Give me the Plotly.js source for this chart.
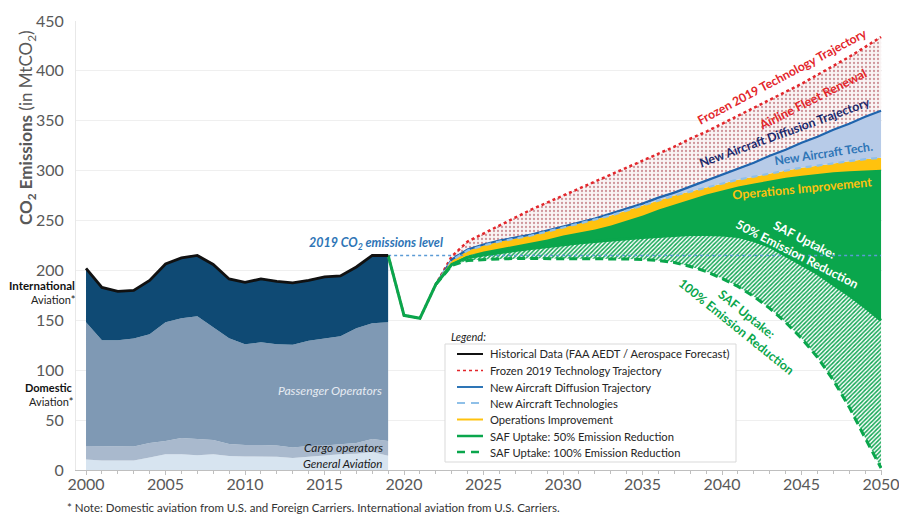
<!DOCTYPE html>
<html><head><meta charset="utf-8">
<script src="https://cdn.plot.ly/plotly-3.0.1.min.js"></script>
<style>html,body{margin:0;padding:0;background:#fff;} #chart{width:899px;height:518px;}</style>
</head><body><div id="chart"></div>
<script>
// ---------- data ----------
const histYears = [2000,2001,2002,2003,2004,2005,2006,2007,2008,2009,2010,2011,2012,2013,2014,2015,2016,2017,2018,2019];
const generalAviation = [10.5,9.5,9.5,9.5,12.5,15.7,15.7,14.7,15.7,14,13.5,13.5,13.3,12,13.3,14.3,15.7,16.3,18,14.3];
const cargoOperators = [13.5,14.5,14,14,14.5,13.3,16.3,16.3,14.3,12,11.5,11.5,11.2,10.5,10.7,10.2,10.3,10.7,13,14.7];
const passengerOperators = [124,106,106.5,108.2,109,119,120,123,113,106,101,103,101.5,103,105.5,107.5,108,115,116,119];
const internationalAviation = [54,53,49,48.3,54,58.5,60.5,61,63,59.5,62,63.5,63,62,60.5,61.5,60.5,61.5,68,67];

const fcYears = [2019,2020,2021,2022,2023,2024,2025,2026,2027,2028,2029,2030,2031,2032,2033,2034,2035,2036,2037,2038,2039,2040,2041,2042,2043,2044,2045,2046,2047,2048,2049,2050];
const frozen2019 = [215,155,152,186,214,229,237,245,253,261,268,275,282,289,296,303,310,317,324,332,339,347,355,363,371,379,387,396,405,414,424,434];
const diffusion = [215,155,152,186,211,221,226,230,233,236,240,244,248,252,257,262,267,273,278,284,290,296,302,308,315,321,328,334,341,347,354,360];
const newTech = [215,155,152,186,210,220,225,229,232,235,239,243,247,251,255,260,265,270,275,279,283,287,291,294,297,300,303,305,307.5,309.5,311.5,313];
const opsImprovement = [215,155,152,186,208,216,220,223,226,229,232,236,239,242,246,251,256,262,267,272,277,281,285,288,291,294,296,298,299.5,300.5,301.5,302];
const saf50 = [215,155,152,186,206,213,215.5,218,220,222,224,226,227.5,229,230.5,232,233,234,235,236,236,235.5,234,230,224,215,206,197,186,175,163,150];
const saf100 = [215,155,152,186,205,210,211,211.5,212,212,212,212,212,212,212,211.5,211,210,208,204,199,192,184,174,162,148,132,113,90,63,32,2];
const level2019 = 215;
const levelYears = [2019,2050];

const xTickVals = [2000,2005,2010,2015,2020,2025,2030,2035,2040,2045,2050];
const yTickVals = [0,50,100,150,200,250,300,350,400,450];

const legendLabels = ['Historical Data (FAA AEDT / Aerospace Forecast)','Frozen 2019 Technology Trajectory','New Aircraft Diffusion Trajectory',
  'New Aircraft Technologies','Operations Improvement','SAF Uptake: 50% Emission Reduction','SAF Uptake: 100% Emission Reduction'];

// ---------- helpers ----------
const L = 76, R = 17, T = 21, B = 48, W = 899, H = 518;
const PW = W - L - R, PH = H - T - B;
const X = px => (px - L) / PW;          // pixel -> paper
const Y = py => (H - B - py) / PH;
const FONT = 'Lato, "Open Sans", sans-serif';
const ctx = document.createElement('canvas').getContext('2d');
// font size so that the text's width matches a target length in px
const fit = (text, len, style) => { ctx.font = (style || '') + ' 100px Lato, "Open Sans", sans-serif';
  return Math.round(100 * len / ctx.measureText(text).width * 10) / 10; };

const C = {red:'#e3262b', blue:'#1f64ad', lblue:'#8fc0e8', yellow:'#ffc20e', green:'#0aa64c', black:'#111111'};

const totalHist = histYears.map((_, i) => generalAviation[i] + cargoOperators[i] + passengerOperators[i] + internationalAviation[i]);

const traces = [];
[[generalAviation,'#d7e4f0'],[cargoOperators,'#a9b9cd'],[passengerOperators,'#7f99b4'],[internationalAviation,'#0f4a74']].forEach(([v,c]) => {
  traces.push({x: histYears, y: v, type:'scatter', mode:'lines', stackgroup:'hist', line:{width:0}, fillcolor:c, hoverinfo:'skip'});
});
traces.push({x: fcYears, y: saf100, type:'scatter', mode:'lines', line:{width:0}, hoverinfo:'skip'});
traces.push({x: fcYears, y: saf50, type:'scatter', mode:'lines', line:{width:0}, fill:'tonexty', fillcolor:'#ffffff',
  fillpattern:{shape:'/', fgcolor:'#12a654', bgcolor:'#ffffff', size:3, solidity:0.5}, hoverinfo:'skip'});
traces.push({x: fcYears, y: opsImprovement, type:'scatter', mode:'lines', line:{width:0}, fill:'tonexty', fillcolor:C.green, hoverinfo:'skip'});
traces.push({x: fcYears, y: newTech, type:'scatter', mode:'lines', line:{width:0}, fill:'tonexty', fillcolor:C.yellow, hoverinfo:'skip'});
traces.push({x: fcYears, y: diffusion, type:'scatter', mode:'lines', line:{width:0}, fill:'tonexty', fillcolor:'#b7cbe8', hoverinfo:'skip'});
traces.push({x: fcYears, y: frozen2019, type:'scatter', mode:'lines', line:{width:0}, fill:'tonexty', fillcolor:'#f6eeee',
  fillpattern:{shape:'.', fgcolor:'#cf959b', bgcolor:'#f9f4f4', size:4, solidity:0.25}, hoverinfo:'skip'});
traces.push({x: levelYears, y: [level2019, level2019], type:'scatter', mode:'lines', line:{color:'#5b9bd5', width:1.3, dash:'3px,3px'}, hoverinfo:'skip'});
traces.push({x: fcYears, y: frozen2019, type:'scatter', mode:'lines', line:{color:C.red, width:2.5, dash:'dot'}});
traces.push({x: fcYears.slice(3), y: diffusion.slice(3), type:'scatter', mode:'lines', line:{color:C.blue, width:2.2}});
traces.push({x: fcYears.slice(3), y: newTech.slice(3), type:'scatter', mode:'lines', line:{color:C.lblue, width:2.2, dash:'6px,5px'}});
traces.push({x: fcYears.slice(3), y: opsImprovement.slice(3), type:'scatter', mode:'lines', line:{color:C.yellow, width:2}});
traces.push({x: fcYears, y: saf50, type:'scatter', mode:'lines', line:{color:C.green, width:3}});
traces.push({x: fcYears.slice(3), y: saf100.slice(3), type:'scatter', mode:'lines', line:{color:C.green, width:3, dash:'8px,5px'}});
traces.push({x: histYears, y: totalHist, type:'scatter', mode:'lines', line:{color:C.black, width:2.8}});

const ann = (text, px, py, o) => Object.assign({text, x:X(px), y:Y(py), xref:'paper', yref:'paper', showarrow:false,
  xanchor:'center', yanchor:'middle', font:{family:FONT, size:12, color:'#333'}}, o || {});

const noteText = '* Note: Domestic aviation from U.S. and Foreign Carriers. International aviation from U.S. Carriers.';
const annotations = [
  ann('<b>CO<sub>2</sub> Emissions</b> (in MtCO<sub>2</sub>)', 27, 128, {textangle:-90, font:{family:FONT, size:17, color:'#595959'}}),
  ann('<b>International</b>', 77, 285, {xanchor:'right', font:{family:FONT, size:fit('International', 66, 'bold'), color:'#111'}}),
  ann('Aviation*', 77, 299, {xanchor:'right', font:{family:FONT, size:11, color:'#222'}}),
  ann('<b>Domestic</b>', 75, 387, {xanchor:'right', font:{family:FONT, size:11, color:'#111'}}),
  ann('Aviation*', 75, 401, {xanchor:'right', font:{family:FONT, size:11, color:'#222'}}),
  ann('<i>Passenger Operators</i>', 330, 390, {font:{family:FONT, size:fit('Passenger Operators', 104, 'italic'), color:'#e6ebf2'}}),
  ann('<i>Cargo operators</i>', 343, 447, {font:{family:FONT, size:fit('Cargo operators', 79, 'italic'), color:'#1a1a1a'}}),
  ann('<i>General Aviation</i>', 342, 463, {font:{family:FONT, size:fit('General Aviation', 80, 'italic'), color:'#1a1a1a'}}),
  ann('<b><i>2019 CO<sub>2</sub> emissions level</i></b>', 376, 243, {font:{family:FONT, size:fit('2019 CO2 emissions level', 136, 'italic bold'), color:'#2e75b6'}}),
  ann('<b>Frozen 2019 Technology Trajectory</b>', 782, 76, {textangle:-28,
      font:{family:FONT, size:fit('Frozen 2019 Technology Trajectory', 190, 'bold'), color:C.red}}),
  ann('<b>Airline Fleet Renewal</b>', 812, 99, {textangle:-27,
      font:{family:FONT, size:fit('Airline Fleet Renewal', 118, 'bold'), color:C.red}}),
  ann('<b>New Aircraft Diffusion Trajectory</b>', 784, 132, {textangle:-20,
      font:{family:FONT, size:fit('New Aircraft Diffusion Trajectory', 181, 'bold'), color:'#1c2b6e'}}),
  ann('<b>New Aircraft Tech.</b>', 823, 154, {textangle:-8.5,
      font:{family:FONT, size:fit('New Aircraft Tech.', 100, 'bold'), color:'#2e75b6'}}),
  ann('<b>Operations Improvement</b>', 802, 188, {textangle:-5.4,
      font:{family:FONT, size:fit('Operations Improvement', 140, 'bold'), color:C.yellow}}),
  ann('<b>SAF Uptake:<br>50% Emission Reduction</b>', 800, 247, {textangle:27,
      font:{family:FONT, size:fit('50% Emission Reduction', 136, 'bold'), color:'#ffffff'}}),
  ann('<b>SAF Uptake:<br>100% Emission Reduction</b>', 742, 320, {textangle:39,
      font:{family:FONT, size:fit('100% Emission Reduction', 144, 'bold'), color:C.green}}),
  ann('<i>Legend:</i>', 449, 337, {xanchor:'left', font:{family:FONT, size:11, color:'#222'}}),
  ann(noteText, 65, 507, {xanchor:'left', font:{family:FONT, size:fit(noteText, 493, ''), color:'#333'}})
];

// custom legend (box, line samples, labels)
const legendRows = [354, 370.5, 387, 403, 419.5, 436, 452];
const legendStyles = [
  {color:C.black, width:2, dash:'solid'},
  {color:C.red, width:1.5, dash:'dot'},
  {color:'#2e75b6', width:2, dash:'solid'},
  {color:C.lblue, width:2, dash:'8px,6px'},
  {color:C.yellow, width:2, dash:'solid'},
  {color:C.green, width:2.5, dash:'solid'},
  {color:C.green, width:2.5, dash:'8px,6px'}
];
const legendSize = fit(legendLabels[0], 242, '');
const shapes = [{type:'rect', xref:'paper', yref:'paper', x0:X(445), x1:X(736), y0:Y(344), y1:Y(462),
  line:{color:'#d9d9d9', width:1}, fillcolor:'#ffffff', layer:'above'}];
legendRows.forEach((py, i) => {
  shapes.push({type:'line', xref:'paper', yref:'paper', x0:X(457), x1:X(483), y0:Y(py), y1:Y(py), line:legendStyles[i], layer:'above'});
  annotations.push(ann(legendLabels[i], 488, py, {xanchor:'left', font:{family:FONT, size:legendSize, color:'#262626'}}));
});

const layout = {
  width: W, height: H,
  margin: {l:L, r:R, t:T, b:B, pad:0},
  paper_bgcolor:'#ffffff', plot_bgcolor:'#ffffff',
  font:{family:FONT, color:'#595959'},
  showlegend:false,
  xaxis:{range:[1999.37, 2050.06], tickmode:'array', tickvals:xTickVals, ticks:'outside', ticklen:4, tickcolor:'#bfbfbf',
    showline:true, linecolor:'#bfbfbf', linewidth:1, showgrid:false, zeroline:false, ticklabeloverflow:'allow', ticklabelstandoff:-4,
    minor:{tickmode:'linear', tick0:2000, dtick:1, ticks:'outside', ticklen:3, tickcolor:'#bfbfbf', showgrid:false},
    tickfont:{family:FONT, size:16, color:'#595959'}, fixedrange:true},
  yaxis:{range:[0,450], tickmode:'array', tickvals:yTickVals, ticks:'', showgrid:true, gridcolor:'#efefef', gridwidth:1,
    zeroline:false, showline:true, linecolor:'#e8e8e8', ticklabelstandoff:8,
    tickfont:{family:FONT, size:16, color:'#595959'}, fixedrange:true},
  shapes, annotations
};

Plotly.newPlot('chart', traces, layout, {displayModeBar:false, staticPlot:true});
</script></body></html>
